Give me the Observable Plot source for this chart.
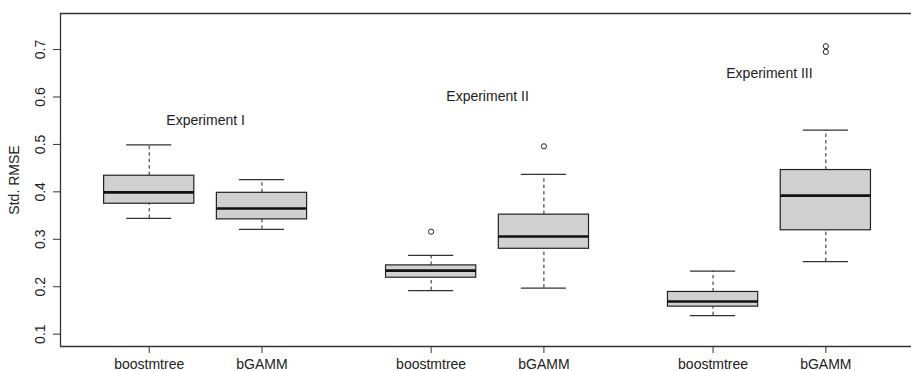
<!DOCTYPE html>
<html>
<head>
<meta charset="utf-8">
<script src="https://cdn.jsdelivr.net/npm/d3@7"></script>
<script src="https://cdn.jsdelivr.net/npm/@observablehq/plot@0.6"></script>
<style>
  html, body { margin: 0; padding: 0; background: #fff; overflow: hidden; }
  #chart { width: 911px; height: 371px; overflow: hidden; }
  #chart svg { display: block; max-width: none !important; }
</style>
</head>
<body>
<div id="chart"></div>
<script>
// ---- data ----
const experiments = ["Experiment I", "Experiment II", "Experiment III"];
const methods = ["boostmtree", "bGAMM"];
// order: Exp I boostmtree, Exp I bGAMM, Exp II boostmtree, Exp II bGAMM, Exp III boostmtree, Exp III bGAMM
const lowerWhisker = [0.344, 0.321, 0.192, 0.197, 0.139, 0.253];
const q1           = [0.375, 0.342, 0.219, 0.280, 0.158, 0.319];
const median       = [0.399, 0.365, 0.234, 0.306, 0.169, 0.392];
const q3           = [0.434, 0.398, 0.245, 0.352, 0.189, 0.446];
const upperWhisker = [0.499, 0.426, 0.266, 0.437, 0.233, 0.530];
const outliers = [[], [], [0.316], [0.496], [], [0.707, 0.695]];
const labelY = [0.55, 0.60, 0.65];
const yTicks = [0.1, 0.2, 0.3, 0.4, 0.5, 0.6, 0.7];

// ---- build table ----
const boxes = lowerWhisker.map((lw, i) => {
  const g = Math.floor(i / 2), m = i % 2;
  return {
    exp: experiments[g], method: methods[m],
    pos: 1 + g * 2.5 + m,
    lw, q1: q1[i], med: median[i], q3: q3[i], uw: upperWhisker[i]
  };
});
const outlierPts = boxes.flatMap((b, i) => outliers[i].map(v => ({pos: b.pos, v})));
const expLabels = experiments.map((e, g) => ({text: e, pos: 1.5 + g * 2.5, y: labelY[g]}));
const tickPos = boxes.map(b => b.pos);
const tickLabel = new Map(boxes.map(b => [b.pos, b.method]));

const BW = 0.4, CW = 0.2;
const ink = "#222";

const plot = Plot.plot({
  width: 930,
  height: 371,
  marginLeft: 60,
  marginTop: 13,
  marginBottom: 25,
  marginRight: 0,
  style: {fontFamily: "'Liberation Sans', Arial, Helvetica, sans-serif", fontSize: "14px", color: ink, background: "#fff", maxWidth: "none"},
  x: {type: "linear", domain: [0.2134, 7.928]},
  y: {domain: [0.074, 0.776]},
  marks: [
    // whiskers (dashed)
    Plot.ruleX(boxes, {x: "pos", y1: "q3", y2: "uw", stroke: ink, strokeWidth: 1, strokeDasharray: "3.5,3"}),
    Plot.ruleX(boxes, {x: "pos", y1: "lw", y2: "q1", stroke: ink, strokeWidth: 1, strokeDasharray: "3.5,3"}),
    // whisker caps
    Plot.ruleY(boxes, {y: "uw", x1: d => d.pos - CW, x2: d => d.pos + CW, stroke: "#333", strokeWidth: 1.2}),
    Plot.ruleY(boxes, {y: "lw", x1: d => d.pos - CW, x2: d => d.pos + CW, stroke: "#333", strokeWidth: 1.2}),
    // boxes
    Plot.rect(boxes, {x1: d => d.pos - BW, x2: d => d.pos + BW, y1: "q1", y2: "q3", fill: "#cfd0cf", stroke: ink, strokeWidth: 1.2}),
    // medians
    Plot.ruleY(boxes, {y: "med", x1: d => d.pos - BW, x2: d => d.pos + BW, stroke: "#111", strokeWidth: 2.6}),
    // outliers
    Plot.dot(outlierPts, {x: "pos", y: "v", r: 2.6, stroke: ink, fill: "none", strokeWidth: 1}),
    // experiment labels
    Plot.text(expLabels, {x: "pos", y: "y", text: "text", fontSize: 14, fill: ink}),
    // frame (left, top, bottom)
    Plot.ruleX([0.2134], {stroke: "#333", strokeWidth: 1.3}),
    Plot.ruleY([0.074, 0.776], {stroke: "#333", strokeWidth: 1.3}),
    // y axis ticks and rotated labels
    Plot.axisY(yTicks, {tickSize: 7, tickFormat: () => "", stroke: "#333", strokeWidth: 1}),
    Plot.text(yTicks, {y: d => d, text: d => d.toFixed(1), frameAnchor: "left", dx: -20, rotate: -90, textAnchor: "middle", lineAnchor: "middle", fontSize: 14, fill: ink}),
    Plot.text(["Std. RMSE"], {text: d => d, frameAnchor: "left", dx: -46, rotate: -90, textAnchor: "middle", lineAnchor: "middle", fontSize: 14, fill: ink}),
    // x axis
    Plot.axisX(tickPos, {tickSize: 7, tickPadding: 6, tickFormat: d => tickLabel.get(d), fontSize: 14, fill: ink, stroke: "#333", label: null})
  ]
});
document.getElementById("chart").appendChild(plot);
</script>
</body>
</html>
